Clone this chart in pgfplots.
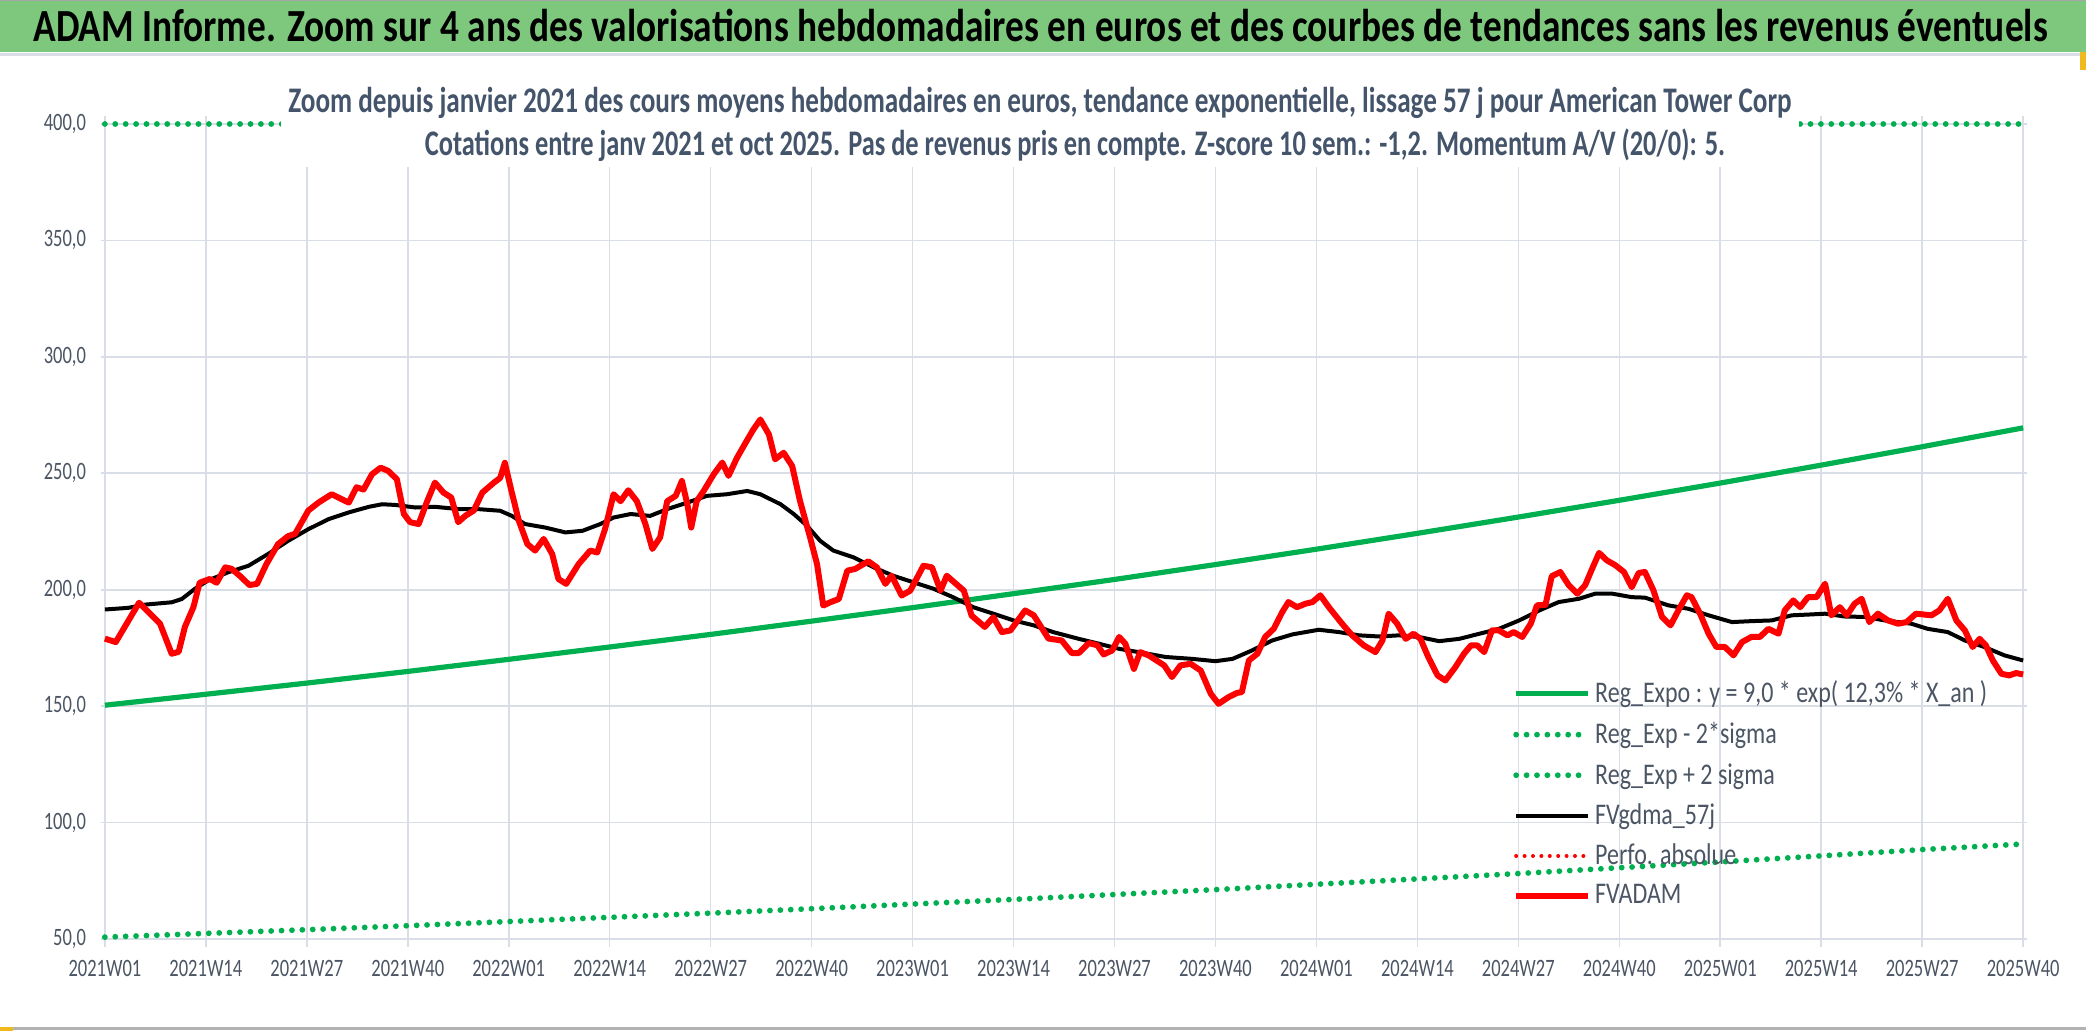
\documentclass[border=0pt]{standalone}
\usepackage{pgfplots}
\pgfplotsset{compat=1.18}
\usepackage{fontspec}
\setmainfont{Carlito}
\usepackage{graphicx}
\definecolor{xlgreen}{RGB}{0,176,80}
\definecolor{barg}{RGB}{126,200,126}
\definecolor{gridc}{RGB}{217,222,230}
\definecolor{txtc}{RGB}{75,85,100}
\definecolor{subc}{RGB}{68,84,106}
\definecolor{orng}{RGB}{240,185,30}
\newcommand{\sqx}[1]{\scalebox{0.74}[1]{#1}}
\newcommand{\sqt}[1]{\scalebox{0.812}[1]{#1}}
\newcommand{\sqsa}[1]{\scalebox{0.755}[1]{#1}}
\newcommand{\sqsb}[1]{\scalebox{0.733}[1]{#1}}
\newcommand{\sql}[1]{\scalebox{0.8}[1]{#1}}
\begin{document}
\begin{tikzpicture}
\useasboundingbox (-50.5pt,-46pt) rectangle (992.5pt,469.5pt);
\fill[white] (-50.5pt,-46pt) rectangle (992.5pt,469.5pt);
\fill[barg] (-50.5pt,443.5pt) rectangle (992.5pt,469.5pt);
\draw[gray!70, line width=0.8pt] (-50.5pt,469.2pt) -- (992.5pt,469.2pt);
\draw[gridc, line width=1.5pt] (-50.5pt,442pt) -- (992.5pt,442pt);
\draw[gray!60, line width=1.5pt] (-50.5pt,-45pt) -- (992.5pt,-45pt);
\fill[orng] (-50.5pt,-46pt) rectangle (-44pt,-44pt);
\fill[orng] (989.5pt,434.5pt) rectangle (992.5pt,443.5pt);
\node[anchor=west, font=\fontsize{23}{27}\selectfont\bfseries, inner sep=0pt] at (-34pt,456.5pt) {\sqt{ADAM Informe. Zoom sur 4 ans des valorisations hebdomadaires en euros et des courbes de tendances sans les revenus éventuels}};
\begin{axis}[
  scale only axis, width=963pt, height=407.5pt,
  xmin=-0.5, xmax=247.5, ymin=50, ymax=400,
  clip=false,
  axis line style={draw=none},
  xtick={0,13,26,39,52,65,78,91,104,117,130,143,156,169,182,195,208,221,234,247},
  xticklabels={{\sqx{2021W01}},{\sqx{2021W14}},{\sqx{2021W27}},{\sqx{2021W40}},{\sqx{2022W01}},{\sqx{2022W14}},{\sqx{2022W27}},{\sqx{2022W40}},{\sqx{2023W01}},{\sqx{2023W14}},{\sqx{2023W27}},{\sqx{2023W40}},{\sqx{2024W01}},{\sqx{2024W14}},{\sqx{2024W27}},{\sqx{2024W40}},{\sqx{2025W01}},{\sqx{2025W14}},{\sqx{2025W27}},{\sqx{2025W40}}},
  ytick={50,100,150,200,250,300,350,400},
  yticklabels={{\sqx{50,0}},{\sqx{100,0}},{\sqx{150,0}},{\sqx{200,0}},{\sqx{250,0}},{\sqx{300,0}},{\sqx{350,0}},{\sqx{400,0}}},
  tick label style={font=\fontsize{12.5}{14}\selectfont, text=txtc},
  xticklabel style={yshift=-3pt},
  xmajorgrids, ymajorgrids,
  grid style={gridc, line width=0.8pt},
  tick align=outside, major tick length=4pt,
  xtick style={draw=gridc, line width=0.8pt},
  ytick style={draw=none},
  legend style={at={(rel axis cs:0.733,0.322)}, anchor=north west, draw=none, fill=none,
    font=\fontsize{15}{18}\selectfont, text=txtc, inner sep=0pt, row sep=4.3pt},
  legend cell align=left,
  legend image code/.code={\draw[#1] (0pt,0pt) -- (36pt,0pt);},
]
\addplot[xlgreen, line width=2.6pt] coordinates {(0,150.4) (13,155.1) (26,159.9) (39,164.9) (52,170.1) (65,175.4) (78,180.8) (91,186.5) (104,192.3) (117,198.3) (130,204.4) (143,210.8) (156,217.4) (169,224.2) (182,231.2) (195,238.4) (208,245.8) (221,253.5) (234,261.4) (247,269.5)};
\addlegendentry{\sql{Reg\_Expo : y = 9,0 * exp( 12,3\% *  X\_an )}}
\addplot[xlgreen, line width=2.9pt, line cap=round, dash pattern=on 0pt off 5.2pt] coordinates {(0,50.8) (13,52.4) (26,54.0) (39,55.7) (52,57.5) (65,59.3) (78,61.1) (91,63.0) (104,65.0) (117,67.0) (130,69.1) (143,71.2) (156,73.5) (169,75.8) (182,78.1) (195,80.6) (208,83.1) (221,85.7) (234,88.4) (247,90.8)};
\addlegendentry{\sql{Reg\_Exp - 2*sigma}}
\addplot[xlgreen, line width=2.9pt, line cap=round, dash pattern=on 0pt off 5.2pt] coordinates {(0,400) (13,400) (26,400) (39,400) (52,400) (65,400) (78,400) (91,400) (104,400) (117,400) (130,400) (143,400) (156,400) (169,400) (182,400) (195,400) (208,400) (221,400) (234,400) (247,400)};
\addlegendentry{\sql{Reg\_Exp + 2 sigma}}
\addplot[black, line width=2pt] coordinates {(0,191.5) (3,192.2) (5.2,193.6) (8.6,194.6) (9.9,196) (11.6,200.4) (13.3,204) (15.9,207.5) (18.5,210.3) (21,215.3) (23.6,221) (26.2,226) (28.8,230.3) (31.4,233.2) (34,235.6) (35.7,236.7) (37.4,236.4) (40,235.3) (42.5,235.6) (45.6,234.6) (48.1,234.6) (50.9,233.9) (52.4,231.7) (54.1,228.2) (56.7,226.7) (59.3,224.6) (61.5,225.3) (63.8,228.2) (65.5,231) (67.7,232.5) (70.2,231.7) (72.4,234.6) (75,237.4) (77.5,240.3) (80.1,241) (82.7,242.4) (84.4,241) (87,236.7) (88.7,232.5) (90.4,227.5) (92.1,221) (93.8,216.8) (96.4,213.9) (99,209.6) (101.5,206) (104.1,203.2) (106.7,200.4) (109.2,196.8) (111.8,192.5) (114.4,189.7) (117,186.8) (119.6,184.7) (122.1,181.8) (125.4,178.9) (128,176.8) (130.6,174.6) (133.1,173.2) (136.6,171.1) (140,170.3) (143,169.3) (145.2,170.3) (147.7,173.9) (150.3,178.2) (152.9,180.8) (156.3,182.8) (158.9,181.8) (161.5,180.4) (164.1,179.9) (166.6,180.4) (169.2,179.7) (171.8,177.9) (174.4,178.9) (177,181.1) (179.5,183.2) (182.1,186.8) (184.7,191.1) (187.2,194.7) (189.8,196.1) (191.9,198.3) (194.1,198.3) (196.6,196.8) (198.3,196.6) (201.3,193.3) (203.9,191.8) (206.5,189) (209.5,186.1) (212,186.5) (214.6,186.8) (217.2,189) (219.8,189.4) (221.5,189.7) (224,188.5) (226.6,188.3) (229.2,186.8) (232.6,185.4) (234.7,183.2) (237.3,181.8) (239.5,178.2) (242,175.4) (244.6,171.8) (247,169.6)};
\addlegendentry{\sql{FVgdma\_57j}}
\addlegendimage{red, line width=2pt, line cap=round, dash pattern=on 0pt off 4.2pt}
\addlegendentry{\sql{Perfo. absolue}}
\addplot[red, line width=3pt, line join=round] coordinates {(0,179) (1.4,177.5) (4.4,194.4) (7.1,185.4) (8.6,172.5) (9.5,173.3) (10.3,184) (11.4,192.5) (12.2,203) (13.5,204.6) (14.4,203) (15.5,209.6) (16.3,209) (17.6,205.3) (18.6,202) (19.6,202.5) (20.8,211) (22.3,219.6) (23.6,223) (24.5,224) (26.2,234) (27.5,237.4) (29.2,241) (31.4,237.4) (32.4,244) (33.3,243) (34.4,249.6) (35.5,252.4) (36.5,251) (37.6,247.4) (38.5,232.5) (39.3,229) (40.4,228.2) (41.5,238) (42.5,246) (43.6,241.7) (44.6,239.6) (45.5,229) (46.4,231.7) (47.5,234) (48.6,241.7) (50.1,246) (50.9,248) (51.5,254.5) (52.4,241.7) (53.3,229.6) (54.4,219.6) (55.4,216.8) (56.5,221.8) (57.6,215.3) (58.4,204.6) (59.4,202.5) (61,211) (62.5,216.8) (63.4,216) (64.4,226) (65.5,241) (66.4,238) (67.4,242.7) (68.5,238) (69.6,228.2) (70.5,217.5) (71.5,222.5) (72.4,238) (73.5,240.3) (74.3,246.7) (75,236.7) (75.5,226.7) (76.2,238) (77.1,242.4) (78.4,249.6) (79.5,254.6) (80.3,248.9) (81.4,256.7) (82.5,263.1) (83.5,268.8) (84.4,273.1) (85.5,266.7) (86.3,256) (87.4,258.8) (88.5,253.1) (89.5,238.2) (90.8,222.5) (91.7,211) (92.5,193.2) (93.4,194.6) (94.5,196) (95.6,208.2) (96.6,208.9) (98.3,212.2) (99.4,209.6) (100.5,202.5) (101.3,206) (102.6,197.5) (103.7,199.6) (105.4,210.3) (106.5,209.6) (107.6,199.6) (108.4,206) (110.6,199.6) (111.6,188.9) (113.3,184) (114.4,188.2) (115.5,181.8) (116.6,182.5) (118.5,191.1) (119.6,189) (121.5,179) (123.2,178.2) (124.5,172.8) (125.4,172.8) (126.7,177.1) (127.8,176.1) (128.6,172.2) (129.7,173.9) (130.6,179.7) (131.4,176.8) (132.5,166) (133.3,173.2) (134.4,171.8) (136.4,167.5) (137.4,162.5) (138.5,167.5) (139.8,168.2) (141.1,165.3) (142.4,155.3) (143.4,151) (144.7,153.9) (145.8,155.7) (146.4,156) (147.3,169.6) (148.4,172.5) (149.4,179.7) (150.5,183.2) (151.6,190.4) (152.4,194.7) (153.5,192.5) (154.6,194) (155.5,194.7) (156.5,197.6) (157.6,192.5) (159.3,185.4) (160.6,180.4) (162.1,176.1) (163.6,173.2) (164.5,178.2) (165.3,189.7) (166.4,185.4) (167.5,178.9) (168.5,181.1) (169.4,178.9) (170.4,171.1) (171.6,163.2) (172.6,161) (173.9,166.8) (175,172.5) (175.9,176.1) (176.7,176.1) (177.6,173.2) (178.6,182.5) (179.5,182.5) (180.6,180.4) (181.4,181.8) (182.5,179.7) (183.6,185.4) (184.4,193.3) (185.5,193.5) (186.3,205.8) (187.4,207.6) (188.5,201.9) (189.6,198.3) (190.6,201.9) (191.5,209) (192.4,215.8) (193.4,212.6) (194.5,210.5) (195.6,207.6) (196.6,201.1) (197.5,207.2) (198.3,207.6) (199.4,199.7) (200.5,188.3) (201.6,184.7) (202.6,191.1) (203.7,197.6) (204.3,196.8) (205.4,189.7) (206.5,181.1) (207.5,175.4) (208.6,175.4) (209.7,171.8) (210.8,177.5) (212,179.7) (213.1,179.7) (214.2,183.2) (215.5,181.1) (216.3,191.1) (217.4,195.4) (218.3,192.5) (219.3,196.8) (220.4,196.8) (221.5,202.6) (222.3,189) (223.4,192.5) (224.3,189) (225.3,194) (226.2,196.1) (227.2,186.1) (228.3,189.7) (229.6,186.8) (230.9,185.4) (232,186.1) (233.2,189.7) (235.2,189) (236.2,191.1) (237.3,196.1) (238.4,186.8) (239.5,182.5) (240.5,175.4) (241.4,178.9) (242.2,176.1) (243.1,169.6) (244.2,163.9) (245.2,163.2) (246.1,164.2) (247,163.6)};
\addlegendentry{\sql{FVADAM}}
\end{axis}
\fill[white] (90pt,386pt) rectangle (849pt,436pt);
\node[font=\fontsize{18}{22}\selectfont\bfseries, text=subc, inner sep=0pt] at (469.5pt,418pt) {\sqsa{Zoom depuis janvier 2021 des cours moyens hebdomadaires en euros, tendance exponentielle, lissage 57 j pour American Tower Corp}};
\node[font=\fontsize{18}{22}\selectfont\bfseries, text=subc, inner sep=0pt] at (487pt,397pt) {\sqsb{Cotations entre janv 2021 et oct 2025. Pas de revenus pris en compte. Z-score 10 sem.: -1,2. Momentum A/V (20/0): 5.}};
\end{tikzpicture}
\end{document}
